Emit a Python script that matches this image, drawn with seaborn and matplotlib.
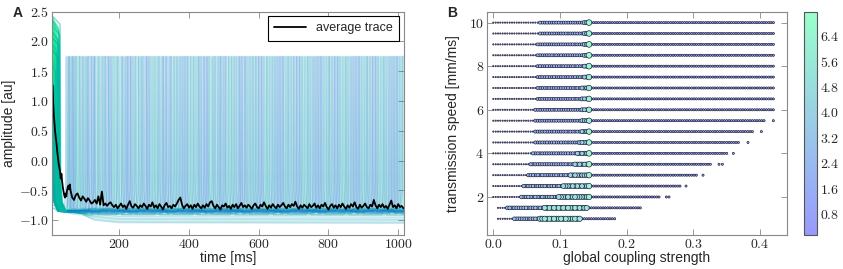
import numpy as np
import pandas as pd
import seaborn as sns
import matplotlib.pyplot as plt
from matplotlib.colors import ListedColormap, Normalize
from matplotlib.cm import ScalarMappable

# ============================================================================
# DATA
# ============================================================================
# --- panel A: simulated traces -------------------------------------------
# start amplitude of each trace and the time [ms] it drops to rest
init_amp = [2.45, 2.43, 2.40, 2.38, 2.35, 2.32, 2.30, 2.27, 2.25, 2.22, 2.20, 2.17,
            2.15, 2.12, 2.10, 2.05, 2.00, 1.95, 1.90, 1.85, 1.80, 1.75, 1.70, 1.60,
            1.50, 1.45, 1.40, 1.30, 1.25, 1.20, 1.10, 1.05, 1.00, 0.90, 0.85, 0.80,
            0.70, 0.65, 0.60, 0.50, 0.45, 0.40, 0.30, 0.25, 0.20, 0.10, 0.05, 0.00,
            -0.10, -0.15, -0.20, -0.30, -0.35, -0.40, -0.50, -0.55, -0.60, -0.65, 2.44, 2.36,
            2.28, 2.18, 2.08, 1.98, 1.88, 1.65, 1.35, 0.95, 0.55, 0.15, -0.25, -0.45]
drop_time = [12, 18, 24, 15, 21, 27, 10, 19, 29, 16, 23, 13,
             26, 17, 22, 12, 25, 15, 20, 28, 11, 18, 23, 14,
             21, 10, 16, 24, 12, 19, 9, 15, 22, 11, 18, 9,
             16, 11, 20, 8, 14, 10, 17, 9, 12, 7, 11, 9,
             8, 10, 7, 9, 7, 8, 7, 6, 7, 6, 30, 26,
             28, 23, 27, 20, 24, 17, 13, 11, 9, 8, 7, 6]

# resting level of each of the neurons that keep firing
rest_levels = [-0.82, -0.86, -0.84, -0.88, -0.81, -0.85, -0.87, -0.83,
               -0.86, -0.80, -0.89, -0.84, -0.85, -0.81, -0.90, -0.83,
               -0.86, -0.84, -0.88, -0.82, -0.85, -0.83, -0.87, -0.91]

# neurons that never fire and sink slowly below the resting level
quiet_level = [-0.92, -0.95, -0.98, -1.0, -1.03, -1.05]

# spike onset times [ms], shared out over the firing neurons
spike_times = [
    32, 35, 38, 41, 45, 47, 52, 55, 58, 63, 66, 70, 74, 77, 83, 86, 91, 95, 99,
    104, 108, 111, 117, 121, 126, 129, 134, 139, 142, 148, 152, 157, 160,
    166, 170, 174, 179, 183, 188, 193, 196, 202, 207, 210, 216, 220, 224,
    229, 233, 238, 243, 246, 252, 256, 261, 265, 269, 275, 279, 283, 288,
    292, 297, 301, 306, 311, 314, 320, 324, 328, 333, 337, 343, 347, 351,
    356, 360, 365, 369, 374, 378, 383, 387, 392, 396, 401, 405, 410, 414,
    419, 424, 428, 432, 437, 442, 446, 451, 455, 459, 465, 469, 473, 478,
    483, 487, 491, 496, 501, 505, 510, 514, 519, 523, 528, 532, 537, 542,
    546, 550, 555, 560, 564, 569, 573, 578, 582, 587, 591, 596, 600, 605,
    609, 614, 619, 623, 627, 632, 637, 641, 646, 650, 655, 659, 664, 668,
    673, 678, 682, 686, 691, 696, 700, 705, 709, 714, 718, 723, 727, 732,
    737, 741, 745, 750, 755, 759, 764, 768, 773, 777, 782, 786, 791, 796,
    800, 804, 809, 814, 818, 823, 827, 832, 836, 841, 846, 850, 854, 859,
    864, 868, 873, 877, 882, 886, 891, 895, 900, 905, 909, 913, 918, 923,
    927, 932, 936, 941, 945, 950, 955, 959, 963, 968, 973, 977, 982, 986,
    991, 995, 1000, 1004, 1009, 1013]

# shape of one spike: offset from onset [ms] and amplitude (None = rest)
spike_dt = [-10, -6, -3, -1, 0, 2, 3, 5]
spike_amp = [None, -0.8, -0.68, -0.5, 1.73, 1.75, -0.2, None]

# average trace: first 60 ms, then one value every 5 ms from 65 ms
avg_time_early = [6, 8, 10, 12, 14, 16, 18, 20, 22, 24, 26, 28, 30, 32,
                  34, 36, 38, 40, 42, 44, 46, 48, 50, 52, 54, 56, 58, 60]
avg_early = [0.05, 1.27, 1.0, 0.78, 0.62, 0.48, 0.38, 0.28, 0.15, 0.05,
             -0.05, -0.12, -0.18, -0.3, -0.22, -0.35, -0.45, -0.52, -0.58,
             -0.62, -0.55, -0.6, -0.5, -0.45, -0.42, -0.48, -0.4, -0.5]
avg_late = [
    -0.62, -0.66, -0.58, -0.55, -0.62, -0.67, -0.6, -0.64, -0.69, -0.63,
    -0.67, -0.72, -0.7, -0.66, -0.72, -0.6, -0.74, -0.52, -0.75, -0.72,
    -0.76, -0.72, -0.7, -0.75, -0.78, -0.74, -0.8, -0.76, -0.72, -0.78,
    -0.75, -0.81, -0.74, -0.68, -0.77, -0.79, -0.73, -0.76, -0.8, -0.75,
    -0.78, -0.72, -0.76, -0.81, -0.74, -0.77, -0.7, -0.79, -0.75, -0.8,
    -0.73, -0.77, -0.82, -0.75, -0.71, -0.78, -0.76, -0.8, -0.74, -0.77,
    -0.72, -0.66, -0.62, -0.74, -0.8, -0.76, -0.73, -0.79, -0.75, -0.81,
    -0.74, -0.78, -0.72, -0.77, -0.8, -0.75, -0.79, -0.73, -0.77, -0.7,
    -0.68, -0.76, -0.8, -0.74, -0.78, -0.82, -0.75, -0.77, -0.72, -0.79,
    -0.76, -0.81, -0.74, -0.78, -0.73, -0.8, -0.76, -0.71, -0.78, -0.75,
    -0.79, -0.74, -0.77, -0.81, -0.75, -0.72, -0.78, -0.8, -0.74, -0.77,
    -0.7, -0.76, -0.81, -0.75, -0.79, -0.73, -0.77, -0.8, -0.74, -0.78,
    -0.75, -0.71, -0.77, -0.8, -0.74, -0.78, -0.73, -0.76, -0.69, -0.77,
    -0.81, -0.75, -0.79, -0.74, -0.77, -0.8, -0.73, -0.78, -0.76, -0.72,
    -0.79, -0.75, -0.8, -0.74, -0.77, -0.71, -0.78, -0.82, -0.76, -0.73,
    -0.79, -0.75, -0.8, -0.74, -0.78, -0.72, -0.77, -0.81, -0.75, -0.79,
    -0.73, -0.77, -0.7, -0.78, -0.81, -0.74, -0.79, -0.76, -0.72, -0.78,
    -0.8, -0.74, -0.77, -0.66, -0.75, -0.8, -0.74, -0.78, -0.73, -0.79,
    -0.76, -0.81, -0.74, -0.67, -0.78, -0.75, -0.8, -0.73, -0.78, -0.76, -0.8]

# --- panel B: parameter sweep --------------------------------------------
speeds = [1.0, 1.5, 2.0, 2.5, 3.0, 3.5, 4.0, 4.5, 5.0, 5.5,
          6.0, 6.5, 7.0, 7.5, 8.0, 8.5, 9.0, 9.5, 10.0]
row_start = [0.005, 0.005] + [0.0] * 17
row_end = [0.183, 0.222, 0.251, 0.281, 0.305, 0.328, 0.350, 0.370, 0.390,
           0.408] + [0.42] * 9
tiny_end = [0.03, 0.02, 0.04, 0.045, 0.05, 0.055, 0.058, 0.06, 0.06, 0.062,
            0.062, 0.064, 0.064, 0.065, 0.065, 0.066, 0.066, 0.067, 0.067]
warm_start = [0.07, 0.075, 0.095, 0.105, 0.115, 0.12, 0.125, 0.128, 0.13, 0.132,
              0.132, 0.133, 0.133, 0.134, 0.134, 0.135, 0.135, 0.135, 0.136]
peak_x = [0.131, 0.141] + [0.145] * 17
tiny_val = 0.3
mid_val = [2.8, 2.8, 2.6, 2.5, 2.3, 2.2, 2.1, 2.0, 2.0, 1.9,
           1.9, 1.9, 1.9, 1.9, 1.9, 1.9, 1.9, 1.9, 1.9]
warm_val = [5.6, 5.4, 5.0, 4.6, 4.3, 4.0, 3.8, 3.6, 3.5, 3.5,
            3.4, 3.4, 3.4, 3.4, 3.4, 3.4, 3.4, 3.4, 3.4]
peak_val = [5.8, 5.5, 6.2, 6.3, 6.2, 6.4, 6.6, 6.3, 6.2, 6.0,
            6.1, 6.3, 6.0, 6.1, 6.8, 6.9, 6.8, 6.4, 6.7]
tail_val = 0.9
extra_speed = [2.0, 2.0, 2.5, 3.0, 3.5, 3.5, 4.0, 4.5, 5.0, 5.5]
extra_x = [0.2595, 0.2635, 0.289, 0.3145, 0.3385, 0.3435, 0.36, 0.382, 0.402, 0.42]
coupling_step = 0.0035

# ============================================================================
# STYLE
# ============================================================================
sns.set_style("ticks")
plt.rcParams['font.family'] = ['Liberation Sans', 'DejaVu Sans']
plt.rcParams['mathtext.fontset'] = 'cm'
plt.rcParams['axes.formatter.use_mathtext'] = True
plt.rcParams['axes.edgecolor'] = '#888888'
plt.rcParams['axes.linewidth'] = 0.8

frame_grey = '#888888'


def style_axes(ax):
    ax.tick_params(direction='in', top=True, right=True, length=4, width=0.6,
                   color=frame_grey, labelsize=10, pad=2,
                   labelfontfamily='cmr10')


fig = plt.figure(figsize=(8.43, 2.69), dpi=100)
axA = fig.add_axes([0.0613, 0.126, 0.4177, 0.8305])
axB = fig.add_axes([0.5773, 0.126, 0.3559, 0.8305])
cax = fig.add_axes([0.9537, 0.126, 0.0154, 0.8305])

# ============================================================================
# PANEL A
# ============================================================================
winter = plt.get_cmap('winter')

# 1) onset transient of every neuron
onset_rows, onset_colors = [], {}
for k, (v0, td) in enumerate(zip(init_amp, drop_time)):
    pts = [(6, v0), (td, v0 - 0.15)]
    for dt, v in [(2, -0.35), (7, -0.7), (18, -0.85)]:
        pts.append((td + dt, min(pts[-1][1], v)))
    onset_rows += [(k, t, v) for t, v in pts]
    onset_colors[k] = winter(0.95 - 0.3 * k / len(init_amp))
onset = pd.DataFrame(onset_rows, columns=['trace', 'time', 'amp'])

# 2) ongoing firing of the active neurons
n_active = len(rest_levels)
fire_rows, fire_colors = [], {}
for k, rest in enumerate(rest_levels):
    td = drop_time[k * 3]
    pts = [(td + 18, -0.85)]
    for i, s in enumerate(spike_times):
        if (i * 7) % n_active != k or s < td + 24:
            continue
        pts += [(s + dt, rest if v is None else v)
                for dt, v in zip(spike_dt, spike_amp)]
    pts.append((max(1020, pts[-1][0] + 1), rest))
    fire_rows += [(k, t, v) for t, v in pts]
    fire_colors[k] = winter(0.3 + 0.45 * ((k * 5) % n_active) / n_active)
for j, lvl in enumerate(quiet_level):
    pts = [(30, -0.85), (80, -0.87), (130, lvl + 0.05), (200, lvl + 0.01),
           (1020, lvl)]
    fire_rows += [(n_active + j, t, v) for t, v in pts]
    fire_colors[n_active + j] = winter(0.6)
firing = pd.DataFrame(fire_rows, columns=['trace', 'time', 'amp'])

sns.lineplot(data=firing, x='time', y='amp', hue='trace', palette=fire_colors,
             estimator=None, sort=False, alpha=0.25, lw=1.0, legend=False, ax=axA)
sns.lineplot(data=onset, x='time', y='amp', hue='trace', palette=onset_colors,
             estimator=None, sort=False, alpha=0.5, lw=1.0, legend=False, ax=axA)

avg = pd.DataFrame({
    'time': avg_time_early + [65 + 5 * i for i in range(len(avg_late))],
    'amp': avg_early + avg_late,
})
sns.lineplot(data=avg, x='time', y='amp', color='black', lw=1.3,
             estimator=None, sort=False, label='average trace', ax=axA)

axA.set_xlim(6, 1016)
axA.set_ylim(-1.25, 2.5)
axA.set_xticks([200, 400, 600, 800, 1000])
axA.set_yticks([-1.0, -0.5, 0.0, 0.5, 1.0, 1.5, 2.0, 2.5])
axA.set_xlabel('time [ms]', fontsize=10, labelpad=0)
axA.set_ylabel('amplitude [au]', fontsize=10, labelpad=2)
style_axes(axA)
leg = axA.legend(loc='upper right', fontsize=9, fancybox=False,
                 handlelength=2.6, borderaxespad=0.35, borderpad=0.5)
leg.get_frame().set_edgecolor('black')
leg.get_frame().set_linewidth(0.8)
leg.get_frame().set_alpha(1)

# ============================================================================
# PANEL B
# ============================================================================
grid = np.round(np.arange(0, 0.4201, coupling_step), 4)
pts_b = []
for i, sp in enumerate(speeds):
    xs = grid[(grid >= row_start[i]) & (grid <= row_end[i] + 1e-9)]
    peak_idx = np.argmin(np.abs(xs - peak_x[i]))
    for n, x in enumerate(xs):
        if n == peak_idx:
            val = peak_val[i]
        elif n > peak_idx:
            val = tail_val
        elif x < tiny_end[i]:
            val = tiny_val
        elif x < warm_start[i]:
            val = mid_val[i]
        else:
            val = warm_val[i]
        pts_b.append((x, sp, val))
for sp, x in zip(extra_speed, extra_x):
    pts_b.append((x, sp, tail_val))

sweep = pd.DataFrame(pts_b, columns=['coupling', 'speed', 'value'])
sweep = sweep.sort_values('value')

vmin, vmax = 0.14, 7.16
norm = Normalize(vmin, vmax)
base = winter(np.linspace(0, 1, 256))[:, :3]
soft_winter = ListedColormap(0.4 * base + 0.6)

sns.scatterplot(data=sweep, x='coupling', y='speed', hue='value', size='value',
                palette=soft_winter, hue_norm=norm, sizes=(0.5, 18),
                size_norm=norm, edgecolor='#14142e', linewidth=0.45,
                legend=False, ax=axB)

axB.set_xlim(-0.01, 0.44)
axB.set_ylim(0.25, 10.5)
axB.set_xticks([0.0, 0.1, 0.2, 0.3, 0.4])
axB.set_yticks([2, 4, 6, 8, 10])
axB.set_xlabel('global coupling strength', fontsize=10, labelpad=0)
axB.set_ylabel('transmission speed [mm/ms]', fontsize=10, labelpad=6)
style_axes(axB)

sm = ScalarMappable(norm=norm, cmap=soft_winter)
cb = fig.colorbar(sm, cax=cax, ticks=[0.8, 1.6, 2.4, 3.2, 4.0, 4.8, 5.6, 6.4])
cb.outline.set_edgecolor('#555555')
cb.outline.set_linewidth(0.8)
cax.tick_params(direction='in', length=3, width=0.5, color='#888888',
                labelsize=10, pad=2, labelfontfamily='cmr10')

fig.text(13 / 843, 1 - 6 / 269, 'A', fontsize=10, fontweight='bold',
         ha='left', va='top')
fig.text(447 / 843, 1 - 6 / 269, 'B', fontsize=10, fontweight='bold',
         ha='left', va='top')

fig.savefig('out.png', dpi=100)
